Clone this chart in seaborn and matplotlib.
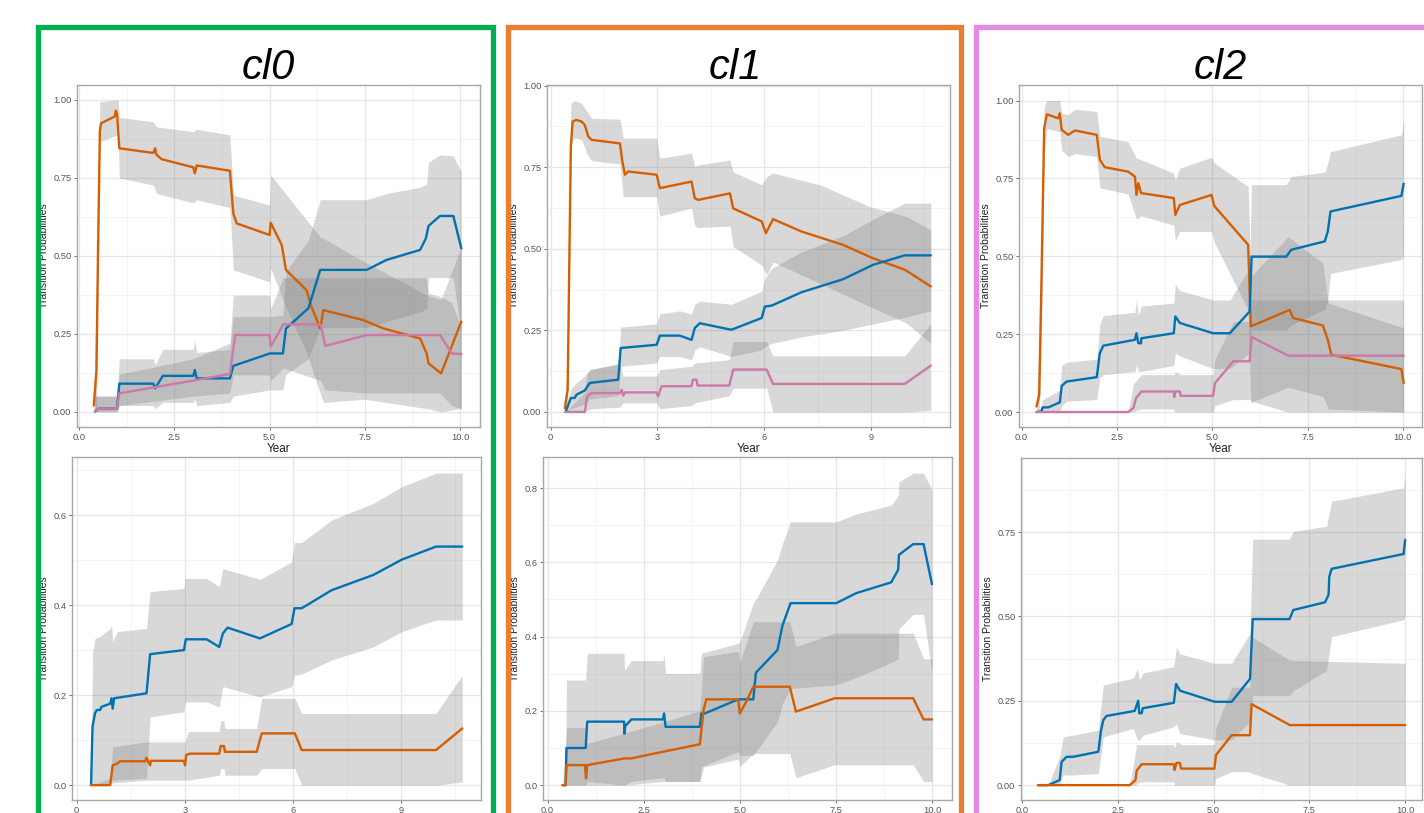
import matplotlib
matplotlib.use("Agg")
import matplotlib.pyplot as plt
from matplotlib.patches import Rectangle
from matplotlib.ticker import MultipleLocator
import seaborn as sns

# -----------------------------
# Data: cl0, top panel
# -----------------------------
cl0_top_orange_x = [0.39, 0.46, 0.50, 0.55, 0.58, 0.94, 0.97, 1.0, 1.06, 1.95, 2.0, 2.03, 2.17, 3.0, 3.04, 3.09, 3.96,
                    4.05, 4.14, 5.0, 5.03, 5.32, 5.43, 5.97, 6.1, 6.33, 6.41, 7.46, 7.99, 8.95, 9.12, 9.17, 9.5, 10.03]
cl0_top_orange_y = [0.02, 0.13, 0.5, 0.90, 0.925, 0.947, 0.966, 0.955, 0.845, 0.83, 0.845, 0.825, 0.81, 0.784, 0.765,
                    0.79, 0.773, 0.636, 0.604, 0.567, 0.606, 0.535, 0.455, 0.39, 0.337, 0.267, 0.326, 0.294, 0.267,
                    0.235, 0.187, 0.155, 0.123, 0.289]
cl0_top_blue_x = [0.42, 0.51, 1.0, 1.06, 1.95, 2.0, 2.2, 3.0, 3.04, 3.09, 3.96, 4.05, 5.01, 5.35, 5.43, 6.02, 6.33,
                  7.55, 8.07, 8.95, 9.1, 9.17, 9.47, 9.82, 10.03]
cl0_top_blue_y = [0, 0.01, 0.01, 0.09, 0.09, 0.075, 0.115, 0.115, 0.134, 0.107, 0.107, 0.147, 0.187, 0.187, 0.267,
                  0.332, 0.455, 0.455, 0.487, 0.519, 0.556, 0.596, 0.628, 0.628, 0.524]
cl0_top_pink_x = [0.42, 0.51, 1.0, 1.06, 3.0, 3.96, 4.1, 5.0, 5.03, 5.36, 6.34, 6.46, 7.55, 9.47, 9.78, 10.03]
cl0_top_pink_y = [0, 0.01, 0.01, 0.059, 0.10, 0.121, 0.246, 0.246, 0.209, 0.28, 0.28, 0.211, 0.246, 0.246, 0.187, 0.185]

cl0_top_orange_band_x = [0.39, 0.46, 0.55, 1.0, 1.03, 1.06, 1.95, 2.04, 3.0, 3.09, 3.96, 4.05, 5.0, 5.03, 5.45, 5.97,
                         6.33, 6.41, 7.5, 9.12, 9.5, 10.03]
cl0_top_orange_hi = [0.05, 0.40, 0.995, 1.0, 1.0, 0.944, 0.93, 0.914, 0.898, 0.906, 0.888, 0.695, 0.663, 0.76, 0.695,
                     0.615, 0.56, 0.556, 0.48, 0.374, 0.36, 0.53]
cl0_top_orange_lo = [0.0, 0.0, 0.866, 0.888, 0.888, 0.75, 0.727, 0.70, 0.67, 0.68, 0.655, 0.455, 0.417, 0.46, 0.33,
                     0.19, 0.06, 0.03, 0.04, 0.01, 0.0, 0.01]
cl0_top_blue_band_x = [0.42, 1.0, 1.06, 1.95, 2.0, 2.2, 3.0, 3.04, 3.09, 3.96, 4.05, 5.01, 5.35, 5.43, 6.02, 6.33,
                       7.55, 8.07, 8.95, 9.12, 9.17, 9.47, 9.82, 10.03]
cl0_top_blue_hi = [0.05, 0.05, 0.17, 0.17, 0.15, 0.20, 0.20, 0.23, 0.19, 0.20, 0.305, 0.305, 0.31, 0.45, 0.55, 0.68,
                   0.68, 0.70, 0.72, 0.73, 0.80, 0.824, 0.82, 0.77]
cl0_top_blue_lo = [0.0, 0.0, 0.02, 0.02, 0.01, 0.03, 0.03, 0.04, 0.02, 0.03, 0.05, 0.07, 0.07, 0.12, 0.17, 0.27,
                   0.27, 0.29, 0.32, 0.33, 0.43, 0.43, 0.43, 0.25]
cl0_top_pink_band_x = [0.42, 1.0, 1.06, 3.0, 3.96, 4.05, 5.0, 5.03, 5.36, 6.34, 6.46, 7.55, 9.1, 9.17, 9.47, 9.78, 10.03]
cl0_top_pink_hi = [0.05, 0.05, 0.12, 0.17, 0.22, 0.374, 0.374, 0.33, 0.43, 0.43, 0.43, 0.43, 0.43, 0.38, 0.37, 0.35,
                   0.27]
cl0_top_pink_lo = [0.0, 0.0, 0.02, 0.05, 0.06, 0.118, 0.118, 0.10, 0.14, 0.10, 0.07, 0.06, 0.06, 0.06, 0.06, 0.02,
                   0.01]

# -----------------------------
# Data: cl0, bottom panel
# -----------------------------
cl0_bot_blue_x = [0.40, 0.44, 0.51, 0.56, 0.65, 0.69, 0.93, 0.97, 1.0, 1.04, 1.94, 2.04, 2.98, 3.03, 3.61, 3.96, 4.06,
                  4.19, 5.09, 5.97, 6.05, 6.25, 7.08, 8.24, 9.03, 9.98, 10.71]
cl0_bot_blue_y = [0, 0.13, 0.16, 0.167, 0.167, 0.174, 0.181, 0.193, 0.17, 0.193, 0.204, 0.291, 0.30, 0.324, 0.324,
                  0.307, 0.337, 0.35, 0.326, 0.358, 0.393, 0.393, 0.433, 0.467, 0.501, 0.53, 0.53]
cl0_bot_orange_x = [0.40, 0.93, 1.0, 1.13, 1.2, 1.9, 1.94, 1.99, 2.04, 2.06, 2.98, 3.01, 3.04, 3.15, 3.96, 4.0, 4.09,
                    4.12, 5.0, 5.14, 6.06, 6.25, 9.98, 10.71]
cl0_bot_orange_y = [0, 0, 0.044, 0.048, 0.053, 0.053, 0.061, 0.052, 0.044, 0.054, 0.054, 0.044, 0.067, 0.07, 0.07,
                    0.087, 0.087, 0.074, 0.074, 0.115, 0.115, 0.078, 0.078, 0.126]

cl0_bot_blue_band_x = [0.40, 0.44, 0.51, 0.65, 0.93, 0.97, 1.0, 1.13, 1.94, 2.04, 2.98, 3.01, 3.61, 3.96, 4.06, 5.09,
                       5.97, 6.05, 6.25, 7.08, 8.24, 9.03, 9.98, 10.71]
cl0_bot_blue_hi = [0.0, 0.293, 0.326, 0.33, 0.348, 0.356, 0.319, 0.341, 0.348, 0.43, 0.437, 0.459, 0.459, 0.441,
                   0.481, 0.457, 0.496, 0.539, 0.539, 0.589, 0.626, 0.663, 0.693, 0.693]
cl0_bot_blue_lo = [0.0, 0.0, 0.0, 0.0, 0.005, 0.01, 0.01, 0.012, 0.015, 0.152, 0.163, 0.185, 0.185, 0.174, 0.219,
                   0.196, 0.219, 0.244, 0.247, 0.278, 0.307, 0.341, 0.367, 0.367]
cl0_bot_orange_band_x = [0.40, 0.93, 1.0, 1.94, 2.04, 3.01, 3.1, 3.96, 4.0, 4.09, 4.12, 5.0, 5.14, 6.06, 6.25, 9.98,
                         10.71]
cl0_bot_orange_hi = [0.0, 0.015, 0.085, 0.096, 0.096, 0.096, 0.119, 0.119, 0.143, 0.143, 0.126, 0.126, 0.193, 0.193,
                     0.159, 0.159, 0.244]
cl0_bot_orange_lo = [0.0, 0.0, 0.005, 0.011, 0.011, 0.011, 0.011, 0.022, 0.037, 0.037, 0.022, 0.022, 0.037, 0.037,
                     0.0, 0.0, 0.007]

# -----------------------------
# Data: cl1, top panel
# -----------------------------
cl1_top_orange_x = [0.40, 0.48, 0.52, 0.57, 0.62, 0.73, 0.87, 0.96, 1.06, 1.15, 1.95, 2.01, 2.09, 2.18, 2.98, 3.07,
                    3.96, 4.05, 4.15, 5.04, 5.13, 5.93, 6.05, 6.25, 7.05, 8.22, 9.06, 9.95, 10.68]
cl1_top_orange_y = [0.012, 0.068, 0.405, 0.813, 0.89, 0.895, 0.89, 0.88, 0.844, 0.834, 0.823, 0.772, 0.727, 0.737,
                    0.727, 0.686, 0.706, 0.655, 0.65, 0.67, 0.624, 0.584, 0.548, 0.591, 0.553, 0.512, 0.471, 0.436,
                    0.385]
cl1_top_blue_x = [0.42, 0.57, 0.68, 0.73, 0.96, 1.1, 1.9, 1.97, 2.98, 3.07, 3.63, 3.96, 4.05, 4.19, 5.08, 5.93, 6.02,
                  6.21, 7.05, 8.22, 9.06, 9.95, 10.68]
cl1_top_blue_y = [0, 0.043, 0.043, 0.053, 0.066, 0.089, 0.099, 0.196, 0.206, 0.234, 0.234, 0.221, 0.257, 0.272,
                  0.252, 0.288, 0.323, 0.326, 0.367, 0.407, 0.451, 0.48, 0.48]
cl1_top_pink_x = [0.42, 0.96, 1.03, 1.15, 1.95, 2.0, 2.04, 2.09, 2.98, 3.02, 3.12, 3.96, 4.0, 4.1, 4.13, 5.02, 5.13,
                  6.07, 6.25, 9.95, 10.68]
cl1_top_pink_y = [0, 0, 0.048, 0.058, 0.058, 0.068, 0.05, 0.06, 0.06, 0.048, 0.079, 0.079, 0.099, 0.099, 0.081, 0.081,
                  0.13, 0.13, 0.086, 0.086, 0.142]

cl1_top_orange_band_x = [0.40, 0.48, 0.52, 0.57, 0.68, 0.87, 1.03, 1.15, 1.95, 2.04, 2.98, 3.07, 3.96, 4.05, 4.15,
                         5.04, 5.13, 5.93, 6.07, 6.25, 7.57, 8.97, 10.0, 10.68]
cl1_top_orange_hi = [0.03, 0.15, 0.55, 0.946, 0.954, 0.946, 0.92, 0.90, 0.897, 0.839, 0.839, 0.778, 0.793, 0.752,
                     0.757, 0.772, 0.736, 0.696, 0.721, 0.732, 0.696, 0.629, 0.599, 0.558]
cl1_top_orange_lo = [0.0, 0.0, 0.25, 0.82, 0.84, 0.835, 0.79, 0.77, 0.76, 0.66, 0.66, 0.60, 0.625, 0.57, 0.565, 0.57,
                     0.507, 0.45, 0.42, 0.46, 0.394, 0.323, 0.272, 0.21]
cl1_top_blue_band_x = [0.42, 0.57, 0.73, 0.96, 1.1, 1.9, 1.97, 2.98, 3.07, 3.63, 3.96, 4.05, 4.19, 5.08, 5.93, 6.02,
                       6.21, 7.05, 8.22, 9.06, 9.95, 10.68]
cl1_top_blue_hi = [0.0, 0.07, 0.09, 0.11, 0.13, 0.145, 0.26, 0.27, 0.30, 0.31, 0.30, 0.33, 0.34, 0.33, 0.37, 0.41,
                   0.44, 0.49, 0.54, 0.59, 0.64, 0.64]
cl1_top_blue_lo = [0.0, 0.01, 0.015, 0.025, 0.04, 0.05, 0.14, 0.15, 0.17, 0.17, 0.16, 0.19, 0.20, 0.17, 0.19, 0.20,
                   0.21, 0.23, 0.25, 0.27, 0.29, 0.31]
cl1_top_pink_band_x = [0.42, 0.96, 1.03, 1.15, 1.95, 2.04, 2.98, 3.07, 3.96, 4.05, 5.02, 5.13, 6.07, 6.25, 9.95, 10.68]
cl1_top_pink_hi = [0.0, 0.06, 0.12, 0.13, 0.15, 0.11, 0.11, 0.13, 0.14, 0.15, 0.16, 0.216, 0.216, 0.172, 0.172, 0.27]
cl1_top_pink_lo = [0.0, 0.0, 0.005, 0.01, 0.015, 0.028, 0.028, 0.01, 0.02, 0.028, 0.05, 0.073, 0.073, 0.0, 0.0, 0.005]

# -----------------------------
# Data: cl1, bottom panel
# -----------------------------
cl1_bot_blue_x = [0.39, 0.47, 0.49, 0.99, 1.03, 1.99, 2.0, 2.02, 2.18, 3.0, 3.03, 3.07, 3.96, 4.0, 4.09, 4.96, 5.35,
                  5.42, 5.98, 6.11, 6.32, 7.51, 8.03, 8.94, 9.12, 9.14, 9.51, 9.78, 10.0]
cl1_bot_blue_y = [0, 0, 0.1, 0.1, 0.171, 0.171, 0.139, 0.159, 0.177, 0.177, 0.193, 0.157, 0.157, 0.193, 0.193, 0.231,
                  0.231, 0.303, 0.364, 0.43, 0.49, 0.49, 0.517, 0.546, 0.58, 0.62, 0.649, 0.649, 0.541]
cl1_bot_orange_x = [0.39, 0.47, 0.49, 0.97, 1.0, 1.03, 2.0, 2.18, 3.0, 3.96, 4.06, 4.13, 4.96, 5.0, 5.17, 5.35, 6.3,
                    6.46, 7.47, 9.51, 9.78, 10.0]
cl1_bot_orange_y = [0, 0, 0.054, 0.054, 0.018, 0.054, 0.072, 0.072, 0.09, 0.11, 0.204, 0.231, 0.231, 0.193, 0.225,
                    0.265, 0.265, 0.198, 0.234, 0.234, 0.177, 0.177]

cl1_bot_blue_band_x = [0.47, 0.49, 0.99, 1.03, 1.99, 2.0, 2.18, 3.0, 3.03, 3.07, 3.96, 4.0, 4.96, 5.0, 5.35, 5.42,
                       5.98, 6.11, 6.32, 7.51, 8.03, 8.94, 9.12, 9.14, 9.51, 9.78, 10.0]
cl1_bot_blue_hi = [0.0, 0.283, 0.283, 0.355, 0.355, 0.31, 0.335, 0.335, 0.353, 0.301, 0.301, 0.355, 0.382, 0.386,
                   0.489, 0.50, 0.606, 0.65, 0.709, 0.709, 0.73, 0.754, 0.78, 0.817, 0.84, 0.84, 0.795]
cl1_bot_blue_lo = [0.0, 0.0, 0.0, 0.01, 0.0, 0.0, 0.01, 0.02, 0.02, 0.01, 0.01, 0.05, 0.09, 0.08, 0.08, 0.09, 0.17,
                   0.22, 0.26, 0.27, 0.29, 0.33, 0.34, 0.42, 0.46, 0.46, 0.30]
cl1_bot_orange_band_x = [0.39, 0.49, 0.97, 1.0, 1.03, 2.0, 3.0, 3.96, 4.06, 4.96, 5.0, 5.35, 6.3, 6.46, 7.47, 9.51,
                         9.78, 10.0]
cl1_bot_orange_hi = [0.0, 0.155, 0.155, 0.12, 0.112, 0.14, 0.17, 0.20, 0.346, 0.36, 0.33, 0.44, 0.44, 0.373, 0.409,
                     0.409, 0.34, 0.34]
cl1_bot_orange_lo = [0.0, 0.0, 0.0, 0.0, 0.0, 0.0, 0.01, 0.01, 0.049, 0.07, 0.05, 0.085, 0.085, 0.02, 0.055, 0.055,
                     0.01, 0.01]

# -----------------------------
# Data: cl2, top panel
# -----------------------------
cl2_top_orange_x = [0.39, 0.46, 0.52, 0.59, 0.66, 0.96, 1.0, 1.05, 1.22, 1.40, 1.97, 2.05, 2.18, 2.79, 2.97, 3.01,
                    3.06, 3.13, 3.99, 4.03, 4.15, 4.98, 5.05, 5.94, 6.01, 7.03, 7.12, 7.9, 8.03, 8.12, 9.96, 10.02]
cl2_top_orange_y = [0.018, 0.056, 0.425, 0.911, 0.956, 0.943, 0.959, 0.906, 0.89, 0.904, 0.89, 0.81, 0.786, 0.772,
                    0.756, 0.697, 0.735, 0.703, 0.687, 0.633, 0.665, 0.697, 0.662, 0.537, 0.275, 0.328, 0.302, 0.278,
                    0.232, 0.184, 0.138, 0.093]
cl2_top_blue_x = [0.39, 0.52, 0.55, 0.70, 1.0, 1.05, 1.18, 1.97, 2.05, 2.14, 2.97, 3.01, 3.06, 3.13, 3.14, 3.99, 4.03,
                  4.15, 5.02, 5.46, 5.98, 6.03, 6.94, 7.07, 7.95, 8.03, 8.1, 9.96, 10.02]
cl2_top_blue_y = [0, 0.002, 0.015, 0.015, 0.031, 0.084, 0.098, 0.112, 0.189, 0.213, 0.232, 0.253, 0.221, 0.221, 0.237,
                  0.253, 0.307, 0.286, 0.253, 0.253, 0.323, 0.499, 0.499, 0.521, 0.548, 0.58, 0.644, 0.694, 0.733]
cl2_top_pink_x = [0.39, 2.79, 2.93, 3.0, 3.14, 3.99, 4.0, 4.03, 4.15, 4.17, 5.02, 5.07, 5.55, 5.98, 6.03, 6.99, 10.02]
cl2_top_pink_y = [0, 0, 0.013, 0.045, 0.066, 0.066, 0.048, 0.066, 0.066, 0.052, 0.052, 0.093, 0.163, 0.163, 0.241,
                  0.181, 0.181]

cl2_top_orange_band_x = [0.39, 0.46, 0.52, 0.59, 0.66, 1.0, 1.05, 1.22, 1.40, 1.97, 2.05, 2.79, 3.01, 3.13, 3.99,
                         4.03, 4.15, 4.98, 5.05, 5.94, 6.01, 6.99, 7.9, 8.04, 10.02]
cl2_top_orange_hi = [0.03, 0.2, 0.6, 0.98, 1.0, 1.0, 0.959, 0.955, 0.972, 0.965, 0.885, 0.868, 0.815, 0.81, 0.767,
                     0.745, 0.783, 0.818, 0.80, 0.724, 0.435, 0.563, 0.478, 0.35, 0.27]
cl2_top_orange_lo = [0.0, 0.0, 0.25, 0.84, 0.91, 0.90, 0.84, 0.82, 0.83, 0.82, 0.72, 0.70, 0.62, 0.63, 0.60, 0.55,
                     0.58, 0.58, 0.545, 0.328, 0.03, 0.08, 0.05, 0.01, 0.0]
cl2_top_blue_band_x = [0.39, 0.52, 0.55, 0.7, 1.0, 1.05, 1.18, 1.97, 2.05, 2.14, 2.97, 3.01, 3.06, 3.14, 3.99, 4.03,
                       4.15, 5.02, 5.46, 5.98, 6.03, 6.94, 7.07, 7.95, 8.03, 8.1, 9.96, 10.02]
cl2_top_blue_hi = [0.0, 0.02, 0.04, 0.05, 0.07, 0.15, 0.16, 0.17, 0.28, 0.31, 0.32, 0.36, 0.31, 0.34, 0.35, 0.41,
                   0.39, 0.36, 0.36, 0.46, 0.73, 0.73, 0.756, 0.77, 0.80, 0.836, 0.89, 0.94]
cl2_top_blue_lo = [0.0, 0.0, 0.0, 0.0, 0.0, 0.02, 0.035, 0.04, 0.11, 0.12, 0.13, 0.15, 0.13, 0.13, 0.15, 0.19, 0.18,
                   0.14, 0.14, 0.19, 0.263, 0.263, 0.28, 0.33, 0.36, 0.445, 0.49, 0.50]
cl2_top_pink_band_x = [0.39, 2.79, 2.93, 3.0, 3.14, 3.99, 4.03, 4.17, 5.02, 5.07, 5.55, 5.98, 6.03, 6.99, 10.02]
cl2_top_pink_hi = [0.0, 0.0, 0.09, 0.10, 0.12, 0.12, 0.13, 0.12, 0.12, 0.17, 0.29, 0.29, 0.36, 0.36, 0.36]
cl2_top_pink_lo = [0.0, 0.0, 0.0, 0.005, 0.01, 0.01, 0.0, 0.0, 0.0, 0.02, 0.04, 0.04, 0.035, 0.0, 0.0]

# -----------------------------
# Data: cl2, bottom panel
# -----------------------------
cl2_bot_blue_x = [0.42, 0.68, 0.98, 1.03, 1.16, 1.33, 1.99, 2.06, 2.12, 2.2, 2.94, 3.03, 3.06, 3.12, 3.15, 3.96, 4.02,
                  4.12, 5.03, 5.47, 5.95, 6.02, 6.98, 7.08, 7.91, 8.0, 8.02, 8.08, 9.96, 10.0]
cl2_bot_blue_y = [0, 0, 0.015, 0.069, 0.084, 0.084, 0.099, 0.163, 0.193, 0.205, 0.22, 0.25, 0.213, 0.213, 0.228,
                  0.244, 0.30, 0.28, 0.247, 0.247, 0.315, 0.492, 0.492, 0.519, 0.542, 0.564, 0.618, 0.641, 0.685,
                  0.727]
cl2_bot_orange_x = [0.42, 2.81, 2.96, 2.99, 3.12, 3.96, 3.98, 4.03, 4.12, 4.15, 5.02, 5.06, 5.47, 5.95, 5.99, 6.99,
                    10.0]
cl2_bot_orange_y = [0, 0, 0.015, 0.043, 0.062, 0.062, 0.045, 0.066, 0.066, 0.049, 0.049, 0.089, 0.148, 0.148, 0.24,
                    0.178, 0.178]

cl2_bot_blue_band_x = [0.42, 0.68, 0.98, 1.07, 1.33, 1.99, 2.12, 2.9, 3.01, 3.06, 3.16, 3.96, 4.03, 4.12, 5.03, 5.47,
                       5.95, 6.02, 6.98, 7.08, 7.95, 8.08, 9.96, 10.0]
cl2_bot_blue_hi = [0.0, 0.0, 0.084, 0.143, 0.148, 0.163, 0.297, 0.317, 0.346, 0.312, 0.333, 0.351, 0.41, 0.389,
                   0.361, 0.361, 0.45, 0.729, 0.729, 0.752, 0.767, 0.841, 0.881, 0.92]
cl2_bot_blue_lo = [0.0, 0.0, 0.0, 0.03, 0.03, 0.035, 0.143, 0.168, 0.134, 0.134, 0.148, 0.173, 0.183, 0.153, 0.134,
                   0.134, 0.19, 0.265, 0.265, 0.28, 0.34, 0.44, 0.49, 0.50]
cl2_bot_orange_band_x = [0.42, 2.81, 2.96, 2.99, 3.12, 3.96, 3.98, 4.03, 4.15, 5.02, 5.06, 5.47, 5.95, 5.99, 6.99,
                         10.0]
cl2_bot_orange_hi = [0.0, 0.0, 0.1, 0.12, 0.12, 0.12, 0.11, 0.13, 0.12, 0.12, 0.17, 0.29, 0.29, 0.44, 0.37, 0.361]
cl2_bot_orange_lo = [0.0, 0.0, 0.0, 0.005, 0.01, 0.01, 0.0, 0.0, 0.0, 0.0, 0.02, 0.04, 0.04, 0.035, 0.0, 0.0]

# -----------------------------
# Labels
# -----------------------------
cluster_titles = ["cl0", "cl1", "cl2"]
frame_colors = ["#00B050", "#ED7D31", "#E38AE5"]
ticks_25 = [0, 2.5, 5, 7.5, 10]
ticks_25_labels = ["0.0", "2.5", "5.0", "7.5", "10.0"]
ticks_3 = [0, 3, 6, 9]
ticks_3_labels = ["0", "3", "6", "9"]
yticks_quarter = [0, 0.25, 0.5, 0.75, 1.0]
yticks_quarter_labels = ["0.00", "0.25", "0.50", "0.75", "1.00"]

BLUE = "#0072B2"
ORANGE = "#D55E00"
PINK = "#CC79A7"

# -----------------------------
# Style
# -----------------------------
sns.set_theme(style="white")
plt.rcParams["font.family"] = ["Liberation Sans", "DejaVu Sans"]

W, H = 1424, 813
fig = plt.figure(figsize=(W / 100, H / 100), dpi=100)


def px_axes(left, top, right, bottom):
    return fig.add_axes([left / W, 1 - bottom / H, (right - left) / W, (bottom - top) / H])


def style_axes(ax, xlim, ylim, xt, xtl, yt, ytl, xlabel):
    ax.set_xlim(*xlim)
    ax.set_ylim(*ylim)
    ax.set_xticks(xt)
    ax.set_xticklabels(xtl)
    ax.set_yticks(yt)
    ax.set_yticklabels(ytl)
    ax.xaxis.set_minor_locator(MultipleLocator((xt[1] - xt[0]) / 2))
    ax.yaxis.set_minor_locator(MultipleLocator((yt[1] - yt[0]) / 2))
    ax.grid(which="major", color="#e6e6e6", lw=0.9)
    ax.grid(which="minor", color="#f2f2f2", lw=0.6)
    ax.set_axisbelow(True)
    for sp in ax.spines.values():
        sp.set_color("#a8a8a8")
        sp.set_linewidth(1.0)
    ax.tick_params(which="major", labelsize=6.7, labelcolor="#555555", length=2.5, width=0.6,
                   color="#555555", pad=1.5, left=True, bottom=True)
    ax.tick_params(which="minor", length=0)
    ax.set_ylabel("Transition Probabilities", fontsize=7.5, color="#222222", labelpad=3)
    ax.set_xlabel(xlabel, fontsize=8.5, color="#222222", labelpad=1)


def draw(ax, bands, lines):
    for bx, lo, hi in bands:
        ax.fill_between(bx, lo, hi, color="#7f7f7f", alpha=0.3, lw=0)
    for lx, ly, col in lines:
        sns.lineplot(x=lx, y=ly, ax=ax, color=col, lw=1.7, sort=False, estimator=None)


# -----------------------------
# cl0
# -----------------------------
ax = px_axes(77, 85, 480, 427)
draw(ax,
     [(cl0_top_orange_band_x, cl0_top_orange_lo, cl0_top_orange_hi),
      (cl0_top_blue_band_x, cl0_top_blue_lo, cl0_top_blue_hi),
      (cl0_top_pink_band_x, cl0_top_pink_lo, cl0_top_pink_hi)],
     [(cl0_top_orange_x, cl0_top_orange_y, ORANGE),
      (cl0_top_blue_x, cl0_top_blue_y, BLUE),
      (cl0_top_pink_x, cl0_top_pink_y, PINK)])
style_axes(ax, (-0.05, 10.52), (-0.049, 1.048), ticks_25, ticks_25_labels,
           yticks_quarter, yticks_quarter_labels, "Year")

ax = px_axes(72, 457, 481, 800)
draw(ax,
     [(cl0_bot_blue_band_x, cl0_bot_blue_lo, cl0_bot_blue_hi),
      (cl0_bot_orange_band_x, cl0_bot_orange_lo, cl0_bot_orange_hi)],
     [(cl0_bot_blue_x, cl0_bot_blue_y, BLUE),
      (cl0_bot_orange_x, cl0_bot_orange_y, ORANGE)])
style_axes(ax, (-0.13, 11.23), (-0.033, 0.729), ticks_3, ticks_3_labels,
           [0, 0.2, 0.4, 0.6], ["0.0", "0.2", "0.4", "0.6"], "")

# -----------------------------
# cl1
# -----------------------------
ax = px_axes(547, 85, 950, 427)
draw(ax,
     [(cl1_top_orange_band_x, cl1_top_orange_lo, cl1_top_orange_hi),
      (cl1_top_blue_band_x, cl1_top_blue_lo, cl1_top_blue_hi),
      (cl1_top_pink_band_x, cl1_top_pink_lo, cl1_top_pink_hi)],
     [(cl1_top_orange_x, cl1_top_orange_y, ORANGE),
      (cl1_top_blue_x, cl1_top_blue_y, BLUE),
      (cl1_top_pink_x, cl1_top_pink_y, PINK)])
style_axes(ax, (-0.10, 11.22), (-0.046, 1.002), ticks_3, ticks_3_labels,
           yticks_quarter, yticks_quarter_labels, "Year")

ax = px_axes(543, 457, 952, 800)
draw(ax,
     [(cl1_bot_blue_band_x, cl1_bot_blue_lo, cl1_bot_blue_hi),
      (cl1_bot_orange_band_x, cl1_bot_orange_lo, cl1_bot_orange_hi)],
     [(cl1_bot_blue_x, cl1_bot_blue_y, BLUE),
      (cl1_bot_orange_x, cl1_bot_orange_y, ORANGE)])
style_axes(ax, (-0.12, 10.52), (-0.040, 0.8835), ticks_25, ticks_25_labels,
           [0, 0.2, 0.4, 0.6, 0.8], ["0.0", "0.2", "0.4", "0.6", "0.8"], "")

# -----------------------------
# cl2
# -----------------------------
ax = px_axes(1019, 85, 1422, 427)
draw(ax,
     [(cl2_top_orange_band_x, cl2_top_orange_lo, cl2_top_orange_hi),
      (cl2_top_blue_band_x, cl2_top_blue_lo, cl2_top_blue_hi),
      (cl2_top_pink_band_x, cl2_top_pink_lo, cl2_top_pink_hi)],
     [(cl2_top_orange_x, cl2_top_orange_y, ORANGE),
      (cl2_top_blue_x, cl2_top_blue_y, BLUE),
      (cl2_top_pink_x, cl2_top_pink_y, PINK)])
style_axes(ax, (-0.07, 10.5), (-0.048, 1.050), ticks_25, ticks_25_labels,
           yticks_quarter, yticks_quarter_labels, "Year")

ax = px_axes(1021, 458, 1422, 800)
draw(ax,
     [(cl2_bot_blue_band_x, cl2_bot_blue_lo, cl2_bot_blue_hi),
      (cl2_bot_orange_band_x, cl2_bot_orange_lo, cl2_bot_orange_hi)],
     [(cl2_bot_blue_x, cl2_bot_blue_y, BLUE),
      (cl2_bot_orange_x, cl2_bot_orange_y, ORANGE)])
style_axes(ax, (-0.03, 10.44), (-0.044, 0.9694), ticks_25, ticks_25_labels,
           [0, 0.25, 0.5, 0.75], ["0.00", "0.25", "0.50", "0.75"], "")

# -----------------------------
# Cluster frames and titles
# -----------------------------
frame_edges = [(37.5, 492.5), (507.5, 960.5), (975.5, 1450)]
title_x = [268, 735, 1220]
for (x0, x1), col, title, tx in zip(frame_edges, frame_colors, cluster_titles, title_x):
    rect = Rectangle((x0 / W, -0.1), (x1 - x0) / W, (1 - 27.5 / H) + 0.1,
                     transform=fig.transFigure, fill=False, edgecolor=col, lw=3.8, clip_on=False)
    fig.add_artist(rect)
    fig.text(tx / W, 1 - 68 / H, title, ha="center", va="center", fontsize=30, style="italic", color="black")

fig.savefig("out.png", dpi=100)
